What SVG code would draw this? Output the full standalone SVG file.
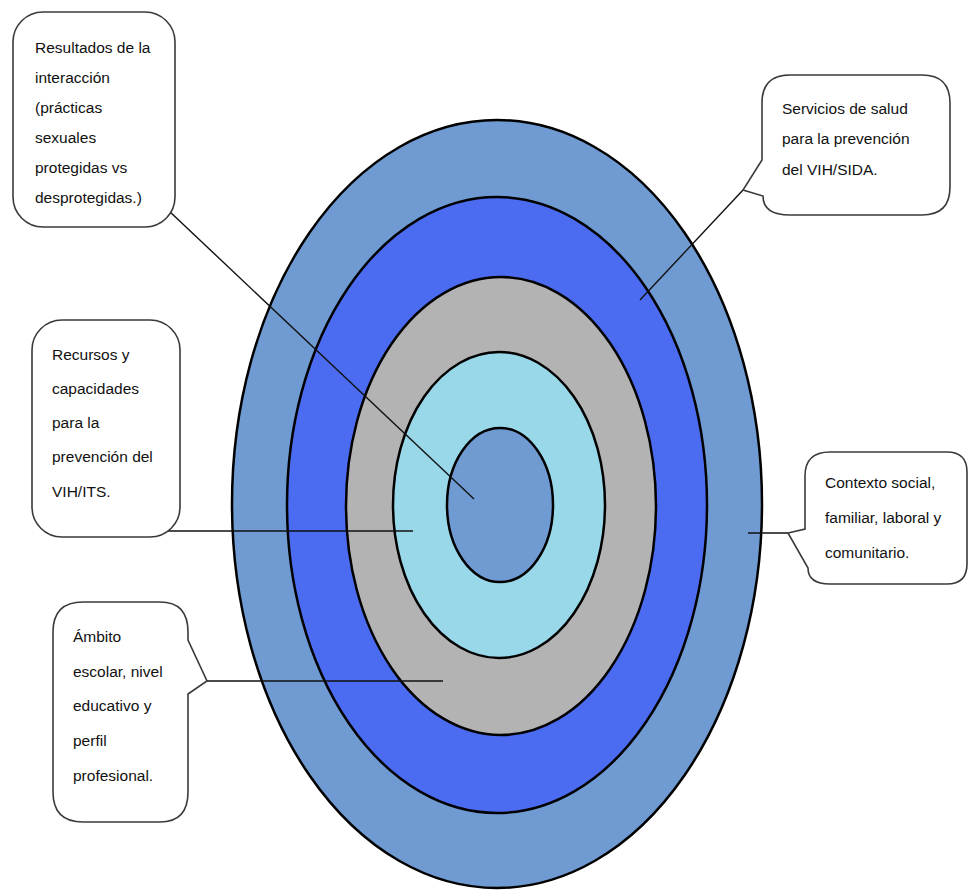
<svg xmlns="http://www.w3.org/2000/svg" width="969" height="890" viewBox="0 0 969 890">
<style>
.ring{stroke:#000;stroke-width:2.5}
.box{fill:#fff;stroke:#3a3a3a;stroke-width:1.6}
.conn{stroke:#111;stroke-width:1.4;fill:none}
text{font-family:"Liberation Sans",Arial,sans-serif;font-size:15.5px;fill:#111}
</style>
<rect width="969" height="890" fill="#fff"/>
<g id="rings">
<ellipse id="ring-contexto" class="ring" cx="497" cy="504" rx="265" ry="384" fill="#6f9bd2"/>
<ellipse id="ring-servicios" class="ring" cx="497" cy="505" rx="210" ry="308" fill="#4b6cf0"/>
<ellipse id="ring-ambito" class="ring" cx="501" cy="506" rx="155" ry="229" fill="#b3b3b3"/>
<ellipse id="ring-recursos" class="ring" cx="499" cy="505" rx="106" ry="153" fill="#98d8e9"/>
<ellipse id="ring-resultados" class="ring" cx="500" cy="505" rx="53" ry="77" fill="#6f9bd2"/>
</g>
<g id="connectors">
<line class="conn" x1="168" y1="210" x2="474" y2="499"/>
<line class="conn" x1="743" y1="190" x2="640" y2="300"/>
<line class="conn" x1="168" y1="531" x2="413" y2="531"/>
<line class="conn" x1="748" y1="533" x2="788" y2="533"/>
<line class="conn" x1="207" y1="681" x2="443" y2="681"/>
</g>
<g id="node-resultados">
<rect class="box" x="13" y="12" width="162" height="215" rx="30" ry="30"/>
<text x="35" y="53">Resultados de la</text>
<text x="35" y="83">interacción</text>
<text x="35" y="113">(prácticas</text>
<text x="35" y="143">sexuales</text>
<text x="35" y="173">protegidas vs</text>
<text x="35" y="203">desprotegidas.)</text>
</g>
<g id="node-servicios">
<path class="box" d="M790,75 H922 Q950,75 950,103 V187 Q950,215 922,215 H790 Q763,215 763,196 L743,190 L762,160 V103 Q762,75 790,75 Z"/>
<text x="782" y="114">Servicios de salud</text>
<text x="782" y="144">para la prevención</text>
<text x="782" y="175">del VIH/SIDA.</text>
</g>
<g id="node-recursos">
<rect class="box" x="32" y="320" width="148" height="217" rx="30" ry="30"/>
<text x="52" y="360">Recursos y</text>
<text x="52" y="394">capacidades</text>
<text x="52" y="428">para la</text>
<text x="52" y="462">prevención del</text>
<text x="52" y="497">VIH/ITS.</text>
</g>
<g id="node-contexto">
<path class="box" d="M830,452 H947 Q967,452 967,472 V564 Q967,584 947,584 H830 Q808,584 808,568 L788,533 L805,529 V476 Q805,452 830,452 Z"/>
<text x="825" y="488">Contexto social,</text>
<text x="825" y="523">familiar, laboral y</text>
<text x="825" y="558">comunitario.</text>
</g>
<g id="node-ambito">
<path class="box" d="M83,602 H160 Q188,602 188,632 V640 L207,681 L188,694 V792 Q188,822 160,822 H83 Q53,822 53,792 V632 Q53,602 83,602 Z"/>
<text x="73" y="642">Ámbito</text>
<text x="73" y="677">escolar, nivel</text>
<text x="73" y="711">educativo y</text>
<text x="73" y="746">perfil</text>
<text x="73" y="781">profesional.</text>
</g>
</svg>
